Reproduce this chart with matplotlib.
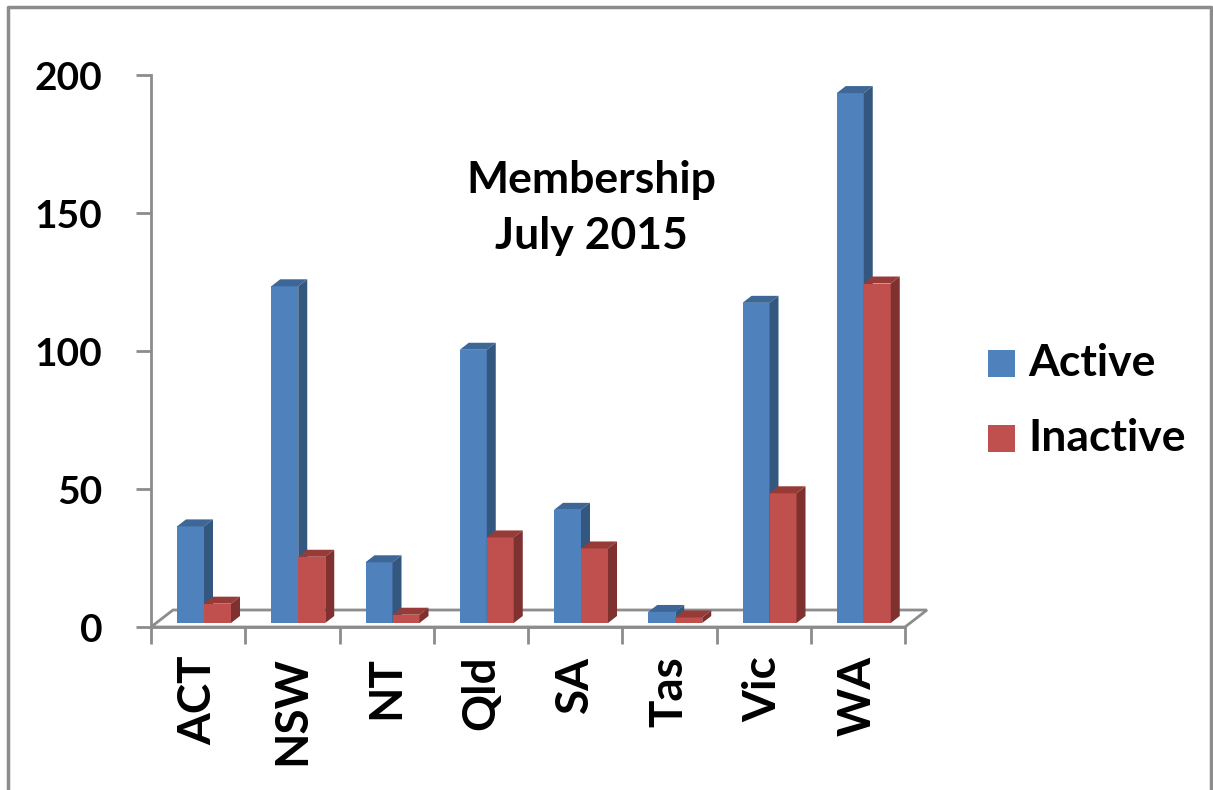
import numpy as np
import matplotlib.pyplot as plt
from matplotlib.patches import Polygon
from matplotlib.lines import Line2D

# =========================
# Data
# =========================
states = ["ACT", "NSW", "NT", "Qld", "SA", "Tas", "Vic", "WA"]
active = [35, 122, 22, 99, 41, 4, 116, 192]
inactive = [7, 24, 3, 31, 27, 2, 47, 123]
yticks = [0, 50, 100, 150, 200]

font = "Lato"
blue = "#4F81BD"
blue_top = "#3D6797"
blue_side = "#34577F"
red = "#C0504D"
red_top = "#973B39"
red_side = "#7F3130"
grey = "#8C8C8C"

W, H = 1213, 790
fig = plt.figure(figsize=(W / 100, H / 100), dpi=100)
ax = fig.add_axes([151 / W, (H - 627) / H, 754 / W, 552 / H])
ax.set_xlim(0, len(states))
ax.set_ylim(0, 200)

# pixel -> data scale
px_x = len(states) / 754
px_y = 200 / 552
dx, dy = 9 * px_x, 7 * px_y
base = 4 * px_y
bw = 27 * px_x

# floor
fdx, fdy = 22 * px_x, 17 * px_y
floor = Polygon([(0, 0), (8, 0), (8 + fdx, fdy), (fdx, fdy)], closed=True,
                facecolor="white", edgecolor=grey, lw=2, clip_on=False, zorder=1)
ax.add_patch(floor)


def box(x, h, front, top, side):
    y0, y1 = base, base + h
    ax.add_patch(Polygon([(x, y0), (x + bw, y0), (x + bw, y1), (x, y1)],
                         facecolor=front, edgecolor="none", clip_on=False, zorder=3))
    ax.add_patch(Polygon([(x, y1), (x + bw, y1), (x + bw + dx, y1 + dy), (x + dx, y1 + dy)],
                         facecolor=top, edgecolor="none", clip_on=False, zorder=3))
    ax.add_patch(Polygon([(x + bw, y0), (x + bw + dx, y0 + dy), (x + bw + dx, y1 + dy), (x + bw, y1)],
                         facecolor=side, edgecolor="none", clip_on=False, zorder=3))


x = np.arange(len(states))
off = 26 * px_x
# blue first, then red so it covers the blue side face
for i in range(len(states)):
    box(x[i] + off, active[i], blue, blue_top, blue_side)
    box(x[i] + off + bw, inactive[i], red, red_top, red_side)

# axes styling
for s in ["top", "right", "bottom"]:
    ax.spines[s].set_visible(False)
ax.spines["left"].set_color(grey)
ax.spines["left"].set_linewidth(2)
ax.add_line(Line2D([0, 8], [0, 0], color=grey, lw=2, clip_on=False, zorder=2))

ax.set_yticks(yticks)
ax.set_yticklabels([str(v) for v in yticks], fontsize=28, fontweight="bold", family=font)
ax.tick_params(axis="y", length=11, width=2, color=grey, pad=24)

ax.set_xticks(np.arange(len(states) + 1))
ax.set_xticklabels([""] * (len(states) + 1))
ax.tick_params(axis="x", length=12, width=2, color=grey)
for i, s in enumerate(states):
    ax.text(i + 0.5, -10.5, s, rotation=90, ha="center", va="top",
            fontsize=33, fontweight="bold", family=font, clip_on=False)

# title inside the plot
fig.text(591 / W, 1 - 180 / H, "Membership", ha="center", va="center",
         fontsize=32, fontweight="bold", family=font)
fig.text(591 / W, 1 - 236 / H, "July 2015", ha="center", va="center",
         fontsize=32, fontweight="bold", family=font)

# legend
for yy, c, lab in [(363, blue, "Active"), (438, red, "Inactive")]:
    fig.patches.append(plt.Rectangle((988 / W, 1 - (yy + 14) / H), 27 / W, 27 / H,
                                     transform=fig.transFigure, facecolor=c, edgecolor="none"))
    fig.text(1028 / W, 1 - yy / H, lab, ha="left", va="center",
             fontsize=32, fontweight="bold", family=font)

# chart border
fig.add_artist(Line2D([8 / W, 8 / W, 1211 / W, 1211 / W], [-0.01, 1 - 7 / H, 1 - 7 / H, -0.01],
                      transform=fig.transFigure, color=grey, lw=2.5))

fig.savefig("out.png", dpi=100)
